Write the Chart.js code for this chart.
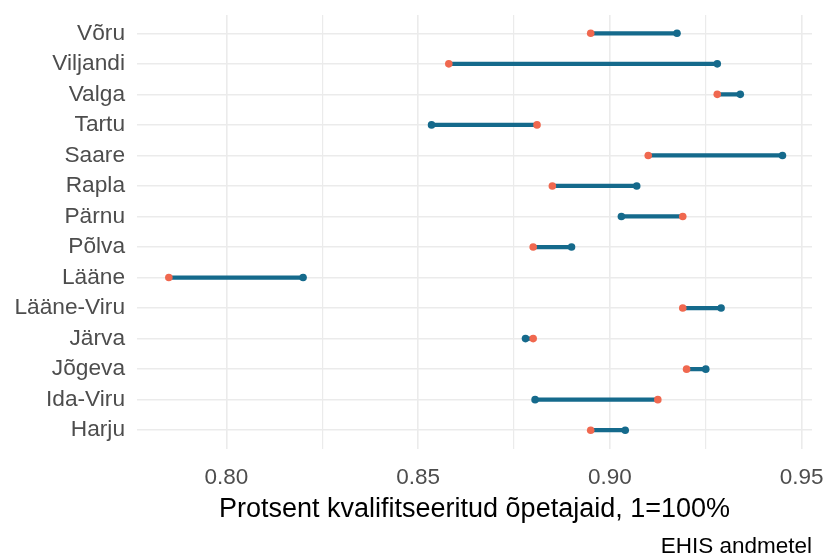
<!DOCTYPE html>
<html>
<head>
<meta charset="utf-8">
<script src="https://cdn.jsdelivr.net/npm/chart.js@4/dist/chart.umd.min.js"></script>
<style>
	html, body { margin: 0; padding: 0; background: #fff; }
	#wrap { width: 826px; height: 557px; }
</style>
</head>
<body>
<div id="wrap"><canvas id="chart"></canvas></div>
<script>
// maakonnad, ülevalt alla
const regions = ['Võru', 'Viljandi', 'Valga', 'Tartu', 'Saare', 'Rapla', 'Pärnu',
	'Põlva', 'Lääne', 'Lääne-Viru', 'Järva', 'Jõgeva', 'Ida-Viru', 'Harju'];
// orange points
const earlier = [0.895, 0.858, 0.928, 0.881, 0.910, 0.885, 0.919,
	0.880, 0.785, 0.919, 0.880, 0.920, 0.9125, 0.895];
// blue points (the line ends here)
const later = [0.9175, 0.928, 0.934, 0.8535, 0.945, 0.907, 0.903,
	0.890, 0.820, 0.929, 0.878, 0.925, 0.8805, 0.904];
const xTicks = [0.80, 0.825, 0.85, 0.875, 0.90, 0.925, 0.95];

const ORANGE = '#f0684f';
const BLUE = '#156a8c';
const GRID = '#ebebeb';
const FONT = 'Arial, "Liberation Sans", sans-serif';

const isMajor = (v) => Math.round(v * 1000) % 50 === 0;

const ctx = document.getElementById('chart').getContext('2d');
new Chart(ctx, {
	data: {
		datasets: [{
			type: 'scatter',
			data: earlier.map((v, i) => ({x: v, y: i})),
			backgroundColor: ORANGE,
			borderColor: ORANGE,
			pointRadius: 3.8,
			borderWidth: 0
		}, {
			type: 'scatter',
			data: later.map((v, i) => ({x: v, y: i})),
			backgroundColor: BLUE,
			borderColor: BLUE,
			pointRadius: 3.8,
			borderWidth: 0
		}, {
			type: 'bar',
			indexAxis: 'y',
			data: regions.map((r, i) => ({y: i, x: [earlier[i], later[i]]})),
			backgroundColor: BLUE,
			borderWidth: 0,
			barThickness: 3.6
		}]
	},
	options: {
		animation: false,
		responsive: true,
		maintainAspectRatio: false,
		layout: {
			padding: {top: 15, right: 14, bottom: 0, left: 0}
		},
		plugins: {
			legend: {display: false},
			tooltip: {enabled: false},
			title: {
				display: true,
				position: 'bottom',
				align: 'end',
				text: 'EHIS andmetel',
				color: '#000',
				font: {family: FONT, size: 22.5, weight: 'normal', lineHeight: 0.9},
				padding: {top: 11.25, bottom: 0}
			}
		},
		scales: {
			x: {
				type: 'linear',
				min: 0.7767,
				max: 0.9527,
				offset: false,
				afterBuildTicks: (axis) => {
					axis.ticks = xTicks.map((v) => ({value: v}));
				},
				afterFit: (axis) => {
					axis.height = 77;
					axis.paddingLeft = 0;
					axis.paddingRight = 0;
				},
				ticks: {
					padding: 16,
					autoSkip: false,
					color: '#4d4d4d',
					maxRotation: 0,
					font: {family: FONT, size: 22.5},
					callback: (v) => isMajor(v) ? v.toFixed(2) : ''
				},
				grid: {
					color: GRID,
					offset: false,
					drawTicks: false,
					lineWidth: (c) => isMajor(c.tick.value) ? 1.6 : 1.2
				},
				border: {display: false},
				title: {
					display: true,
					text: 'Protsent kvalifitseeritud õpetajaid, 1=100%',
					color: '#000',
					font: {family: FONT, size: 27},
					padding: {top: 4, bottom: 0}
				}
			},
			y: {
				type: 'linear',
				reverse: true,
				offset: false,
				min: -0.6,
				max: regions.length - 0.4,
				afterBuildTicks: (axis) => {
					axis.ticks = regions.map((r, i) => ({value: i}));
				},
				afterFit: (axis) => {
					axis.width = 137;
					axis.paddingTop = 0;
					axis.paddingBottom = 0;
				},
				ticks: {
					padding: 12,
					autoSkip: false,
					color: '#4d4d4d',
					font: {family: FONT, size: 22.7},
					callback: (v) => regions[v]
				},
				grid: {
					color: GRID,
					offset: false,
					lineWidth: 1.6,
					drawTicks: false
				},
				border: {display: false}
			}
		}
	}
});
</script>
</body>
</html>
